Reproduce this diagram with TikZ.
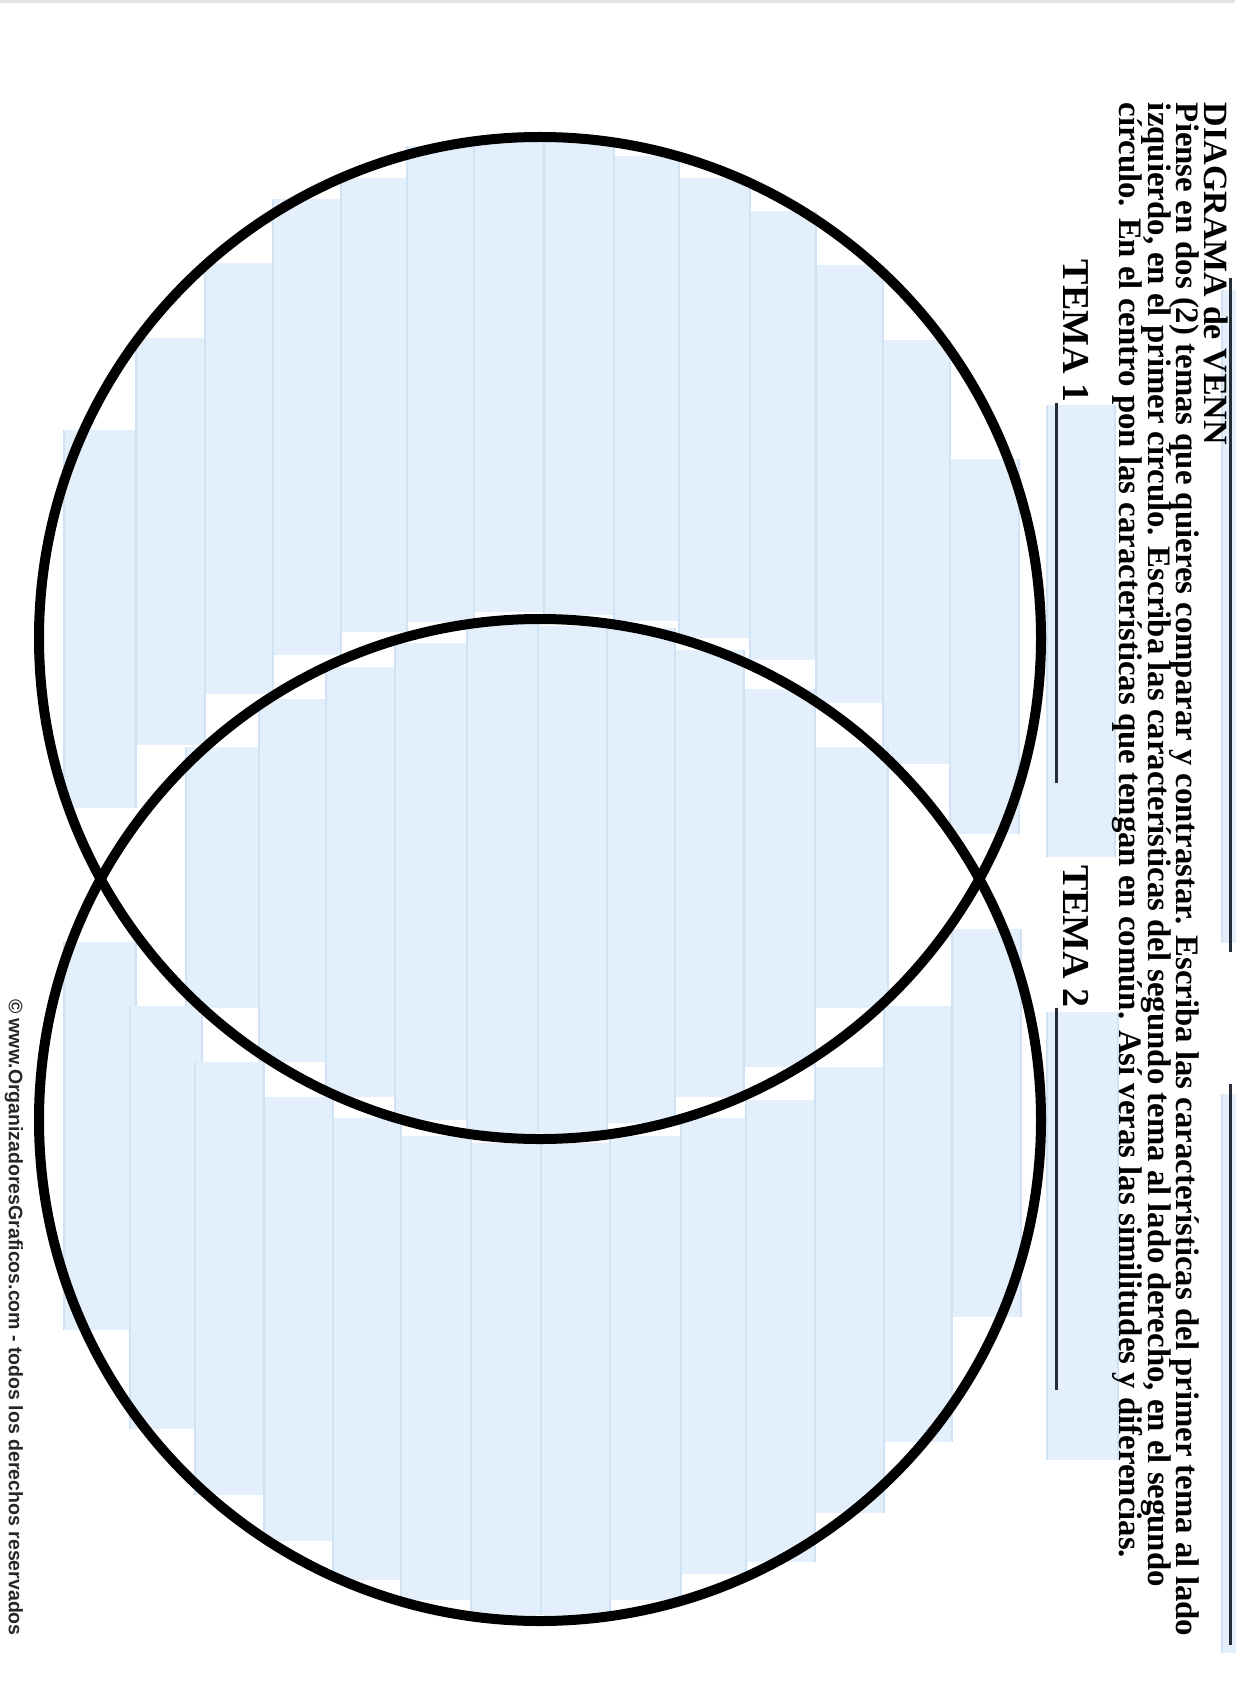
\documentclass[tikz,border=0pt]{standalone}
\usepackage{fontspec}
\setmainfont{Liberation Serif}
\newfontfamily\footfont{Liberation Sans}
\definecolor{fieldblue}{HTML}{E3EFFA}
\definecolor{fieldedge}{HTML}{D0E3F4}
\definecolor{ruleink}{HTML}{262D38}
\definecolor{topgray}{HTML}{E4E4E4}
\tikzset{
  vtext/.style={rotate=-90, anchor=base west, inner sep=0pt, outer sep=0pt, font=\bfseries},
  ring/.style={draw=black, line width=10pt},
  rulestroke/.style={draw=ruleink, line width=3pt},
}
\begin{document}
\begin{tikzpicture}[x=1pt,y=-1pt]
\useasboundingbox (0,0) rectangle (1235,1693);
\fill[white] (0,0) rectangle (1235,1693);
\draw[topgray, line width=3pt] (0,1.5) -- (1235,1.5);
% form fields (blue)
\foreach \a/\b/\c/\d in {
  64/136/430/808, 136/205/338/745, 205/273/263/694, 273/341/199/655,
  341/407/178/632, 407/474/146/622, 474/544/138/612, 544/614/140/615,
  614/679/156/621, 679/750/178/638, 750/816/211/660, 816/883/265/703,
  883/950/340/764, 950/1019/459/834,
  186/259/747/1008, 259/326/699/1062, 326/395/667/1097, 395/467/643/1120,
  467/538/622/1133, 538/607/626/1133, 607/675/628/1123, 675/744/650/1097,
  744/815/689/1067, 815/888/747/1008,
  64/136/942/1330, 130/202/1006/1429, 195/264/1062/1495, 264/333/1097/1541,
  333/401/1118/1580, 401/471/1136/1600, 471/541/1143/1615, 541/610/1143/1615,
  610/681/1136/1600, 681/746/1118/1574, 746/815/1100/1562, 815/884/1067/1513,
  884/952/1006/1442, 952/1021/929/1317,
  1047/1115/405/857, 1047/1118/1012/1460,
  1222/1240/290/943, 1222/1240/1094/1653}
{
  \fill[fieldblue] (\a,\c) rectangle (\b,\d);
  \draw[fieldedge, line width=1.2pt] (\a,\c) -- (\a,\d) (\b,\c) -- (\b,\d);
}
% circles
\draw[ring] (540,638) circle[radius=501pt];
\draw[ring] (540,1120) circle[radius=501pt];
% heading text
\node[vtext, font=\bfseries\fontsize{34}{34}\selectfont] (title) at (1204,103) {DIAGRAMA de VENN};
\node[vtext, font=\bfseries\fontsize{32.8}{32.8}\selectfont] (line1) at (1176,103) {Piense en dos (2) temas que quieres comparar y contrastar. Escriba las características del primer tema al lado};
\node[vtext, font=\bfseries\fontsize{32.8}{32.8}\selectfont] (line2) at (1148,103) {izquierdo, en el primer círculo. Escriba las características del segundo tema al lado derecho, en el segundo};
\node[vtext, font=\bfseries\fontsize{32.8}{32.8}\selectfont] (line3) at (1119,103) {círculo. En el centro pon las características que tengan en común. Así veras las similitudes y diferencias.};
% name lines
\coordinate (r1a) at (1230,278); \coordinate (r1b) at (1230,952);
\coordinate (r2a) at (1230,1084); \coordinate (r2b) at (1230,1645);
\draw[rulestroke] (r1a) -- (r1b);
\draw[rulestroke] (r2a) -- (r2b);
% TEMA labels
\node[vtext, font=\bfseries\fontsize{38}{38}\selectfont] (tema1) at (1063,260) {TEMA 1};
\node[vtext, font=\bfseries\fontsize{38}{38}\selectfont] (tema2) at (1063,865) {TEMA 2};
\coordinate (t1end) at (1056,783);
\coordinate (t2end) at (1056,1390);
\draw[rulestroke] (tema1.base east -| t1end) -- (t1end);
\draw[rulestroke] (tema2.base east -| t2end) -- (t2end);
% footer
\node[vtext, font=\footfont\bfseries\fontsize{19.5}{19.5}\selectfont, text=black!85] (footer) at (9,999) {© www.OrganizadoresGraficos.com - todos los derechos reservados};
\end{tikzpicture}
\end{document}
